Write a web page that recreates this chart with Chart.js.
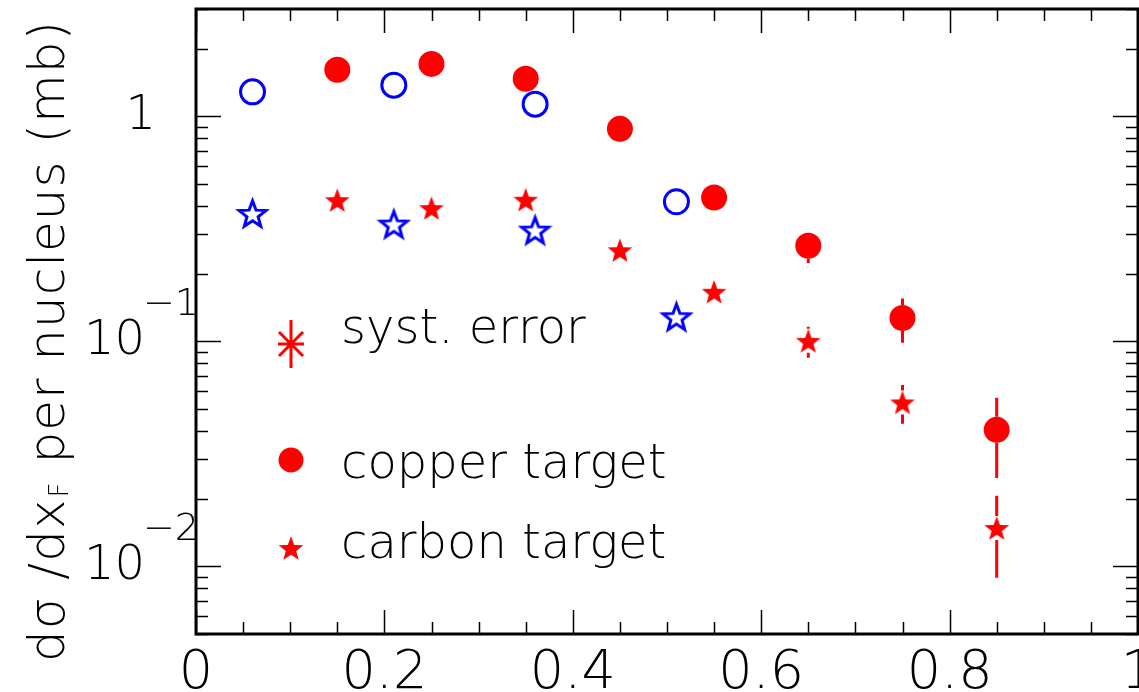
<!DOCTYPE html>
<html>
<head>
<meta charset="utf-8">
<script src="https://cdn.jsdelivr.net/npm/chart.js@4.4.1/dist/chart.umd.min.js"></script>
<style>
  html, body { margin: 0; padding: 0; background: #fff; }
  #wrap { width: 1139px; height: 692px; }
</style>
</head>
<body>
<div id="wrap"><canvas id="grafico" width="1139" height="692"></canvas></div>
<script>
// x_F bins
const xRed = [0.15, 0.25, 0.35, 0.45, 0.55, 0.65, 0.75, 0.85];
const xBlue = [0.06, 0.21, 0.36, 0.51];

// copper target (filled circles) with error band ends
const copper = [1.61, 1.71, 1.47, 0.88, 0.436, 0.266, 0.127, 0.0404];
const copperHi = [1.61, 1.71, 1.47, 0.88, 0.436, 0.304, 0.155, 0.0561];
const copperLo = [1.61, 1.71, 1.47, 0.88, 0.436, 0.223, 0.0985, 0.0247];

// carbon target (filled stars)
const carbon = [0.424, 0.391, 0.426, 0.254, 0.166, 0.1005, 0.0535, 0.0148];
const carbonHi = [0.424, 0.391, 0.426, 0.254, 0.166, 0.116, 0.064, 0.0206];
const carbonLo = [0.424, 0.391, 0.426, 0.254, 0.166, 0.0845, 0.043, 0.0089];

// blue open markers
const blueCircle = [1.285, 1.376, 1.133, 0.417];
const blueStar = [0.370, 0.332, 0.312, 0.1285];

// axis ticks
const xMajor = [0, 0.2, 0.4, 0.6, 0.8, 1];
const xLabels = ['0', '0.2', '0.4', '0.6', '0.8', '1'];
const yDecades = [0.01, 0.1, 1];
const yLabelBase = ['10', '10', '1'];
const yLabelExp = ['\u22122', '\u22121', ''];

const RED = '#ff0000';
const BLUE = '#0000ff';
const FONT = '"DejaVu Sans", sans-serif';
const W = '300 ';

function starPath(ctx, cx, cy, R, r) {
	ctx.beginPath();
	for (let i = 0; i < 10; i++) {
		let rad = i % 2 === 0 ? R : r;
		let a = -Math.PI / 2 + i * Math.PI / 5;
		let px = cx + rad * Math.cos(a), py = cy + rad * Math.sin(a);
		if (i === 0) ctx.moveTo(px, py); else ctx.lineTo(px, py);
	}
	ctx.closePath();
}

function makeStar(R, fill, stroke, lw) {
	let c = document.createElement('canvas');
	let s = Math.ceil(2 * R + lw + 4);
	c.width = s; c.height = s;
	let g = c.getContext('2d');
	starPath(g, s / 2, s / 2 + R * 0.1, R, R * 0.42);
	if (fill) { g.fillStyle = fill; g.fill(); }
	if (stroke) { g.strokeStyle = stroke; g.lineWidth = lw; g.lineJoin = 'miter'; g.stroke(); }
	return c;
}

const redStar = makeStar(13, RED, null, 0);
const openStar = makeStar(14, null, BLUE, 3);

function pts(xs, ys) {
	return xs.map((x, i) => ({x: x, y: ys[i]}));
}

// error bars, broken around the marker like the original
const errorBars = {
	id: 'errorBars',
	beforeDatasetsDraw(chart) {
		const ctx = chart.ctx;
		const xs = chart.scales.x, ys = chart.scales.y;
		const sets = [[copper, copperHi, copperLo, 13], [carbon, carbonHi, carbonLo, 12]];
		ctx.save();
		ctx.strokeStyle = RED;
		ctx.lineWidth = 3;
		sets.forEach(s => {
			xRed.forEach((x, i) => {
				let px = xs.getPixelForValue(x);
				let pc = ys.getPixelForValue(s[0][i]);
				let ph = ys.getPixelForValue(s[1][i]);
				let pl = ys.getPixelForValue(s[2][i]);
				let gap = s[3];
				ctx.beginPath();
				if (pc - ph > gap) { ctx.moveTo(px, ph); ctx.lineTo(px, pc - gap); }
				if (pl - pc > gap) { ctx.moveTo(px, pc + gap); ctx.lineTo(px, pl); }
				ctx.stroke();
			});
		});
		ctx.restore();
	}
};

// frame, inward ticks, labels, legend
const frame = {
	id: 'frame',
	afterDraw(chart) {
		const ctx = chart.ctx;
		const a = chart.chartArea;
		const xs = chart.scales.x, ys = chart.scales.y;
		ctx.save();
		ctx.strokeStyle = '#000';
		ctx.lineWidth = 1.5;
		ctx.beginPath();
		for (let k = 0; k <= 20; k++) {
			let v = k * 0.05;
			let px = Math.round(xs.getPixelForValue(v)) + 0.5;
			let len = (k % 4 === 0) ? 24 : 12;
			ctx.moveTo(px, a.bottom); ctx.lineTo(px, a.bottom - len);
			ctx.moveTo(px, a.top); ctx.lineTo(px, a.top + len);
		}
		for (let d = 0.001; d < 10; d *= 10) {
			for (let m = 1; m <= 9; m++) {
				let v = d * m;
				if (v < ys.min * 0.999 || v > ys.max * 1.001) continue;
				let py = Math.round(ys.getPixelForValue(v)) + 0.5;
				let len = m === 1 ? 25 : 12;
				ctx.moveTo(a.left, py); ctx.lineTo(a.left + len, py);
				ctx.moveTo(a.right, py); ctx.lineTo(a.right - len, py);
			}
		}
		ctx.stroke();

		ctx.lineWidth = 3;
		ctx.strokeRect(a.left, a.top, a.right - a.left, a.bottom - a.top);

		// x labels
		ctx.fillStyle = '#000';
		ctx.font = W + '54px ' + FONT;
		ctx.textAlign = 'center';
		ctx.textBaseline = 'alphabetic';
		xMajor.forEach((v, i) => {
			ctx.fillText(xLabels[i], xs.getPixelForValue(v), 688);
		});

		// y labels
		yDecades.forEach((v, i) => {
			let py = ys.getPixelForValue(v);
			ctx.font = W + '48px ' + FONT;
			ctx.textBaseline = 'middle';
			if (yLabelExp[i] === '') {
				ctx.textAlign = 'right';
				ctx.fillText(yLabelBase[i], 156, py);
			} else {
				ctx.textAlign = 'right';
				ctx.fillText(yLabelBase[i], 145, py);
				ctx.font = W + '38px ' + FONT;
				ctx.textAlign = 'left';
				ctx.fillText(yLabelExp[i], 143, py - 36);
			}
		});

		// y title
		ctx.save();
		ctx.translate(64, 342);
		ctx.rotate(-Math.PI / 2);
		ctx.textBaseline = 'alphabetic';
		ctx.textAlign = 'left';
		ctx.letterSpacing = '1px';
		const big = W + '50px ' + FONT, small = W + '26px ' + FONT;
		const p1 = 'd\u03c3 /dx', p2 = 'F', p3 = ' per nucleus (mb)';
		ctx.font = big;
		let w1 = ctx.measureText(p1).width, w3 = ctx.measureText(p3).width;
		ctx.font = small;
		let w2 = ctx.measureText(p2).width;
		let x0 = -(w1 + w2 + w3) / 2;
		ctx.font = big;
		ctx.fillText(p1, x0, 0);
		ctx.font = small;
		ctx.fillText(p2, x0 + w1 + 1, 4);
		ctx.font = big;
		ctx.fillText(p3, x0 + w1 + w2 + 2, 0);
		ctx.restore();

		// legend
		ctx.strokeStyle = RED;
		ctx.lineWidth = 3;
		let lx = 291, ly = 344;
		ctx.beginPath();
		ctx.moveTo(lx, ly - 24); ctx.lineTo(lx, ly + 24);
		ctx.moveTo(lx - 13, ly); ctx.lineTo(lx + 13, ly);
		ctx.moveTo(lx - 12, ly - 12); ctx.lineTo(lx + 12, ly + 12);
		ctx.moveTo(lx - 12, ly + 12); ctx.lineTo(lx + 12, ly - 12);
		ctx.stroke();
		ctx.fillStyle = RED;
		ctx.beginPath();
		ctx.arc(291, 460, 12.5, 0, Math.PI * 2);
		ctx.fill();
		ctx.drawImage(redStar, 291 - redStar.width / 2, 548 - redStar.height / 2);

		ctx.fillStyle = '#000';
		ctx.font = W + '48px ' + FONT;
		ctx.textAlign = 'left';
		ctx.textBaseline = 'alphabetic';
		ctx.fillText('syst. error', 341, 343);
		ctx.fillText('copper target', 341, 478);
		ctx.fillText('carbon target', 341, 558);
		ctx.restore();
	}
};

new Chart(document.getElementById('grafico').getContext('2d'), {
	type: 'scatter',
	data: {
		datasets: [
			{label: 'blue circle', data: pts(xBlue, blueCircle), pointStyle: 'circle', pointRadius: 12,
			 backgroundColor: 'rgba(0,0,0,0)', borderColor: BLUE, borderWidth: 3},
			{label: 'blue star', data: pts(xBlue, blueStar), pointStyle: openStar},
			{label: 'copper target', data: pts(xRed, copper), pointStyle: 'circle', pointRadius: 13,
			 backgroundColor: RED, borderColor: RED, borderWidth: 0},
			{label: 'carbon target', data: pts(xRed, carbon), pointStyle: redStar}
		]
	},
	options: {
		responsive: false,
		animation: false,
		layout: {autoPadding: false, padding: {left: 196, top: 9, right: 1, bottom: 58}},
		scales: {
			x: {type: 'linear', min: 0, max: 1, display: false},
			y: {type: 'logarithmic', min: 0.005, max: 3, display: false}
		},
		plugins: {legend: {display: false}, tooltip: {enabled: false}}
	},
	plugins: [errorBars, frame]
});
</script>
</body>
</html>
